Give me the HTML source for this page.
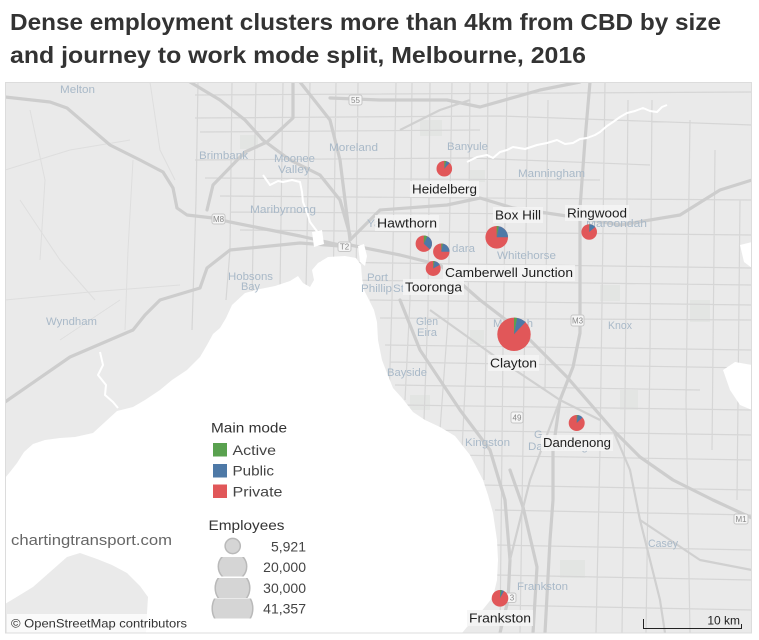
<!DOCTYPE html>
<html><head><meta charset="utf-8"><style>
html,body{margin:0;padding:0;background:#fff;}
svg{display:block;}
</style></head><body>
<svg width="759" height="640" viewBox="0 0 759 640" xmlns="http://www.w3.org/2000/svg" font-family="'Liberation Sans', sans-serif">
<rect width="759" height="640" fill="#fff"/>
<text x="10" y="30" font-size="23" font-weight="bold" fill="#333" textLength="711" lengthAdjust="spacingAndGlyphs">Dense employment clusters more than 4km from CBD by size</text>
<text x="10" y="63" font-size="23" font-weight="bold" fill="#333" textLength="576" lengthAdjust="spacingAndGlyphs">and journey to work mode split, Melbourne, 2016</text>
<defs>
<clipPath id="m"><rect x="5" y="82" width="747" height="551"/></clipPath>
<clipPath id="c2"><rect x="200" y="557" width="70" height="19.5"/></clipPath>
<clipPath id="c3"><rect x="200" y="578" width="70" height="20"/></clipPath>
<clipPath id="c4"><rect x="200" y="598.5" width="70" height="20"/></clipPath>
</defs>
<g clip-path="url(#m)">
<rect x="5" y="82" width="747" height="551" fill="#eaeaea"/>
<g fill="#e3e5e3">
<rect x="240" y="135" width="18" height="14"/><rect x="420" y="120" width="22" height="16"/><rect x="470" y="170" width="15" height="12"/>
<rect x="600" y="285" width="20" height="16"/><rect x="620" y="390" width="18" height="20"/><rect x="560" y="560" width="25" height="18"/>
<rect x="470" y="330" width="14" height="14"/><rect x="690" y="300" width="20" height="22"/><rect x="410" y="395" width="20" height="15"/>
</g>
<path d="M133,160 L128,250 L125,330 M20,200 L60,260 L95,300 M150,82 L160,150 L175,180 M5,300 L90,292 L180,285 M60,340 L120,300 M30,110 L45,180 L40,260 M5,170 L70,150 L130,140" stroke="#dedede" stroke-width="1" fill="none"/>
<path d="M198,82 L196,200 L192,330 M232,82 L230,250 L226,300 M256,82 L252,300 M283,82 L280,290 M310,82 L306,290 M336,82 L333,300 M358,82 L356,290 M396,82 L392,300 L389,400 M412,82 L410,300 L405,400 M430,82 L428,310 L424,420 M452,82 L448,320 L440,430 M470,82 L468,330 L462,450 M488,82 L486,340 L484,480 M507,82 L503,350 L500,633 M528,82 L524,380 L520,633 M548,100 L545,390 M605,82 L600,450 L596,633 M628,100 L625,400 L622,633 M652,100 L650,350 L646,633 M690,120 L686,400 L690,633 M715,150 L712,450 M740,200 L737,500
M195,95 L752,92 M195,118 L500,116 L752,125 M200,132 L480,130 M195,160 L470,158 L650,165 M205,178 L600,180 M220,196 L752,200 M230,212 L560,214 M240,230 L752,235 M320,262 L752,268 M340,280 L752,285 M370,300 L752,305 M380,318 L752,320 M385,345 L752,350 M390,362 L752,368 M395,385 L700,390 M400,405 L752,410 M420,430 L752,435 M450,455 L752,460 M480,485 L752,490 M495,510 L752,515 M495,545 L752,550 M495,575 L752,580 M495,605 L752,610" stroke="#d6d6d6" stroke-width="1.2" fill="none"/>
<g stroke="#cdcdcd" stroke-width="3.2" fill="none" stroke-linejoin="round" stroke-linecap="round">
<path d="M5,97 L50,102 L67,108 L110,145 L140,160 L163,172 L173,188 L177,208 L187,215 L213,218 L230,222 L260,228 L300,236 L340,245"/>
<path d="M5,402 L70,357 L133,330 L145,315 L160,300 L200,288 L207,268 L230,250 L300,243 L340,246"/>
<path d="M293,82 L293,118 L267,142 L245,152 L213,185 L207,210"/>
<path d="M190,82 L220,100 L245,120 L263,140 L290,160 L320,175 L340,200 L350,235"/>
<path d="M330,98 L380,100 L447,100 L480,107 L540,90 L580,82"/>
<path d="M300,82 L330,120 L340,160 L345,200 L350,240"/>
<path d="M350,240 L380,210 L447,205 L480,198 L513,208 L560,215 L580,218 L620,225 L680,215 L720,190 L752,180"/>
<path d="M350,245 L400,255 L440,265 L480,300 L523,333 L567,377 L613,430 L640,457 L673,480 L713,500 L752,518"/>
<path d="M590,82 L585,140 L580,208 L580,333 L573,367 L560,400 L553,450 L553,500 L550,540 L545,633"/>
<path d="M510,470 L523,507 L537,567 L533,633"/>
<path d="M400,300 L420,350 L460,410 L490,450 L505,500 L510,560 L508,600 L500,633"/>
</g>
<g stroke="#d0d0d0" stroke-width="2.2" fill="none" stroke-linejoin="round">
<path d="M430,310 L500,360 L560,400 L600,420"/>
<path d="M613,430 L630,470 L640,520 L650,560 L660,600 L665,633"/>
<path d="M560,400 L530,480 L510,560"/>
<path d="M640,520 L700,560 L752,570"/>
<path d="M400,130 L440,110 L470,100"/>
</g>
<path d="M232,305 L245,293 L260,289 L275,286 L290,281 L298,276 L303,283 L310,287 L314,280 L312,270 L318,263 L328,257 L345,256 L356,258 L361,265 L362,278 L364,290 L368,298 L374,310 L377,322 L378,340 L382,360 L387,373 L393,388 L402,398 L413,412 L425,420 L440,427 L455,436 L470,455 L483,480 L488,495 L493,513 L497,540 L498,560 L497,580 L493,597 L480,613 L467,627 L462,633 L146,633 L147,613 L148,597 L140,586 L127,573 L112,565 L97,559 L80,553 L67,557 L50,572 L33,587 L15,598 L5,604 L5,478 L10,472 L17,463 L24,452 L33,444 L45,440 L60,438 L75,437 L93,433 L105,422 L117,411 L133,407 L145,400 L160,390 L172,380 L187,370 L200,357 L207,345 L213,334 L220,328 L226,318 Z" fill="#fff"/>
<g stroke="#fff" stroke-width="2" fill="none" stroke-linejoin="round">
<path d="M467,162 L477,157 L487,155 L493,158 L500,152 L507,150 L513,147 L525,149 L537,145 L547,143 L557,140 L565,144 L573,143 L580,139 L587,138 L595,135 L600,132 L607,126 L613,122 L620,117 L627,113 L635,111 L643,108 L650,111 L657,112 L662,107 L667,105"/>
<path d="M263,175 L270,185 L278,181 L283,182 L292,180 L300,182 L302,192 L303,202 L307,212 L310,222 L316,230 L320,235"/>
<path d="M100,352 L103,365 L98,375 L106,385 L105,395 L113,402 L118,408"/>
</g>
<path d="M312,232 L322,230 L324,244 L314,247 Z M358,246 L364,244 L367,256 L365,266 L360,262 Z" fill="#fff"/>
<path d="M740,245 L752,242 L752,268 L744,262 Z M723,370 L735,362 L752,365 L752,410 L740,405 L730,390 Z" fill="#fff"/>
<g font-size="11" fill="#a9b9c8">
<text x="60" y="93" textLength="35" lengthAdjust="spacingAndGlyphs">Melton</text>
<text x="199" y="159" textLength="49" lengthAdjust="spacingAndGlyphs">Brimbank</text>
<text x="274" y="162" textLength="41" lengthAdjust="spacingAndGlyphs">Moonee</text>
<text x="278" y="173" textLength="32" lengthAdjust="spacingAndGlyphs">Valley</text>
<text x="329" y="151" textLength="49" lengthAdjust="spacingAndGlyphs">Moreland</text>
<text x="250" y="213" textLength="66" lengthAdjust="spacingAndGlyphs">Maribyrnong</text>
<text x="228" y="280" textLength="45" lengthAdjust="spacingAndGlyphs">Hobsons</text>
<text x="241" y="290" textLength="19" lengthAdjust="spacingAndGlyphs">Bay</text>
<text x="46" y="325" textLength="51" lengthAdjust="spacingAndGlyphs">Wyndham</text>
<text x="447" y="150" textLength="41" lengthAdjust="spacingAndGlyphs">Banyule</text>
<text x="518" y="177" textLength="67" lengthAdjust="spacingAndGlyphs">Manningham</text>
<text x="497" y="259" textLength="59" lengthAdjust="spacingAndGlyphs">Whitehorse</text>
<text x="586" y="227" textLength="61" lengthAdjust="spacingAndGlyphs">Maroondah</text>
<text x="452" y="252" textLength="23" lengthAdjust="spacingAndGlyphs">dara</text>
<text x="367" y="227" textLength="28" lengthAdjust="spacingAndGlyphs">Yarra</text>
<text x="367" y="281" textLength="21" lengthAdjust="spacingAndGlyphs">Port</text>
<text x="361" y="292" textLength="31" lengthAdjust="spacingAndGlyphs">Phillip</text>
<text x="393" y="292" textLength="11" lengthAdjust="spacingAndGlyphs">St</text>
<text x="416" y="325" textLength="22" lengthAdjust="spacingAndGlyphs">Glen</text>
<text x="417" y="336" textLength="20" lengthAdjust="spacingAndGlyphs">Eira</text>
<text x="493" y="327" textLength="40" lengthAdjust="spacingAndGlyphs">Monash</text>
<text x="608" y="329" textLength="24" lengthAdjust="spacingAndGlyphs">Knox</text>
<text x="387" y="376" textLength="40" lengthAdjust="spacingAndGlyphs">Bayside</text>
<text x="465" y="446" textLength="45" lengthAdjust="spacingAndGlyphs">Kingston</text>
<text x="534" y="438">G</text>
<text x="528" y="450" textLength="60" lengthAdjust="spacingAndGlyphs">Dandenong</text>
<text x="648" y="547" textLength="30" lengthAdjust="spacingAndGlyphs">Casey</text>
<text x="517" y="590" textLength="51" lengthAdjust="spacingAndGlyphs">Frankston</text>
</g>
<g fill="#f5f5f5" stroke="#c6c6c6" stroke-width="1">
<rect x="349" y="95" width="13" height="10" rx="2"/>
<rect x="212" y="214" width="13" height="10" rx="2"/>
<rect x="338" y="242" width="13" height="9.5" rx="2"/>
<rect x="571" y="315" width="13" height="11" rx="2"/>
<rect x="511" y="412" width="12" height="11" rx="2"/>
<rect x="734" y="514" width="14" height="10" rx="2"/>
<rect x="505" y="593" width="11" height="9.5" rx="2"/>
</g>
<g font-size="8" fill="#888" text-anchor="middle">
<text x="355.5" y="103">55</text>
<text x="218.5" y="222">M8</text>
<text x="344.5" y="249.5">T2</text>
<text x="577.5" y="323.5">M3</text>
<text x="517" y="420.5">49</text>
<text x="741" y="522">M1</text>
<text x="512" y="600.5">3</text>
</g>
<g fill="#f4f4f4" fill-opacity="0.85">
<rect x="410" y="181" width="69" height="16"/>
<rect x="493" y="207" width="50" height="16"/>
<rect x="565" y="205" width="64" height="16"/>
<rect x="375" y="215" width="64" height="16"/>
<rect x="443" y="265" width="132" height="16"/>
<rect x="403" y="279" width="61" height="16"/>
<rect x="488" y="355" width="51" height="16"/>
<rect x="541" y="435" width="72" height="16"/>
<rect x="467" y="610" width="66" height="16"/>
</g>
<g stroke="none">
<circle cx="444.3" cy="168.7" r="7.8" fill="#e15759"/>
<path d="M444.3,168.7 L444.3,160.9 A7.8,7.8 0 0 1 446.24,161.15 Z" fill="#59a14f"/>
<path d="M444.3,168.7 L446.24,161.15 A7.8,7.8 0 0 1 449.64,163.01 Z" fill="#4e79a7"/>
<circle cx="496.7" cy="237.3" r="11.3" fill="#e15759"/>
<path d="M496.7,237.3 L496.7,226 A11.3,11.3 0 0 1 498.82,226.2 Z" fill="#59a14f"/>
<path d="M496.7,237.3 L498.82,226.2 A11.3,11.3 0 0 1 508,237.3 Z" fill="#4e79a7"/>
<circle cx="589.2" cy="232" r="7.8" fill="#e15759"/>
<path d="M589.2,232 L589.2,224.2 A7.8,7.8 0 0 1 589.69,224.22 Z" fill="#59a14f"/>
<path d="M589.2,232 L589.69,224.22 A7.8,7.8 0 0 1 595.21,227.03 Z" fill="#4e79a7"/>
<circle cx="423.8" cy="243.7" r="8.2" fill="#e15759"/>
<path d="M423.8,243.7 L423.8,235.5 A8.2,8.2 0 0 1 427.29,236.28 Z" fill="#59a14f"/>
<path d="M423.8,243.7 L427.29,236.28 A8.2,8.2 0 0 1 429.78,249.31 Z" fill="#4e79a7"/>
<circle cx="441.3" cy="251.7" r="8.2" fill="#e15759"/>
<path d="M441.3,251.7 L441.3,243.5 A8.2,8.2 0 0 1 442.84,243.65 Z" fill="#59a14f"/>
<path d="M441.3,251.7 L442.84,243.65 A8.2,8.2 0 0 1 449.5,251.7 Z" fill="#4e79a7"/>
<circle cx="433.2" cy="268.5" r="7.5" fill="#e15759"/>
<path d="M433.2,268.5 L433.2,261 A7.5,7.5 0 0 1 434.61,261.13 Z" fill="#59a14f"/>
<path d="M433.2,268.5 L434.61,261.13 A7.5,7.5 0 0 1 439.77,264.89 Z" fill="#4e79a7"/>
<circle cx="514" cy="334.3" r="16.7" fill="#e15759"/>
<path d="M514,334.3 L514,317.6 A16.7,16.7 0 0 1 517.13,317.9 Z" fill="#59a14f"/>
<path d="M514,334.3 L517.13,317.9 A16.7,16.7 0 0 1 525.43,322.13 Z" fill="#4e79a7"/>
<circle cx="576.7" cy="423" r="8" fill="#e15759"/>
<path d="M576.7,423 L576.7,415 A8,8 0 0 1 577.7,415.06 Z" fill="#59a14f"/>
<path d="M576.7,423 L577.7,415.06 A8,8 0 0 1 582.53,417.52 Z" fill="#4e79a7"/>
<circle cx="500" cy="598.3" r="8.3" fill="#e15759"/>
<path d="M500,598.3 L500,590 A8.3,8.3 0 0 1 501.56,590.15 Z" fill="#59a14f"/>
<path d="M500,598.3 L501.56,590.15 A8.3,8.3 0 0 1 504,591.03 Z" fill="#4e79a7"/>
</g>
<g font-size="13" fill="#1e1e1e">
<text x="412" y="193.5" textLength="65" lengthAdjust="spacingAndGlyphs">Heidelberg</text>
<text x="495" y="219.5" textLength="46" lengthAdjust="spacingAndGlyphs">Box Hill</text>
<text x="567" y="217.5" textLength="60" lengthAdjust="spacingAndGlyphs">Ringwood</text>
<text x="377" y="227.5" textLength="60" lengthAdjust="spacingAndGlyphs">Hawthorn</text>
<text x="445" y="277" textLength="128" lengthAdjust="spacingAndGlyphs">Camberwell Junction</text>
<text x="405" y="291.5" textLength="57" lengthAdjust="spacingAndGlyphs">Tooronga</text>
<text x="490" y="367.5" textLength="47" lengthAdjust="spacingAndGlyphs">Clayton</text>
<text x="543" y="447" textLength="68" lengthAdjust="spacingAndGlyphs">Dandenong</text>
<text x="469" y="622.5" textLength="62" lengthAdjust="spacingAndGlyphs">Frankston</text>
</g>
<rect x="7" y="614" width="183" height="19" fill="#fff" fill-opacity="0.75"/>
<text x="11" y="627.5" font-size="12" fill="#333" textLength="176" lengthAdjust="spacingAndGlyphs">© OpenStreetMap contributors</text>
</g>
<text x="11" y="545" font-size="15" fill="#666" textLength="161" lengthAdjust="spacingAndGlyphs">chartingtransport.com</text>
<text x="211" y="432.5" font-size="14" fill="#333" textLength="76" lengthAdjust="spacingAndGlyphs">Main mode</text>
<rect x="213" y="443" width="14" height="13.5" fill="#59a14f"/>
<rect x="213" y="464" width="14" height="13.5" fill="#4e79a7"/>
<rect x="213" y="484.5" width="14" height="13.5" fill="#e15759"/>
<g font-size="14" fill="#444">
<text x="232.5" y="455" textLength="43.5" lengthAdjust="spacingAndGlyphs">Active</text>
<text x="232.5" y="475.5" textLength="41.5" lengthAdjust="spacingAndGlyphs">Public</text>
<text x="232.5" y="496.5" textLength="50" lengthAdjust="spacingAndGlyphs">Private</text>
</g>
<text x="208.5" y="530" font-size="14" fill="#333" textLength="76" lengthAdjust="spacingAndGlyphs">Employees</text>
<g fill="#d5d5d5" stroke="#b9b9b9" stroke-width="1.5">
<circle cx="232.7" cy="546" r="7.6"/>
<circle cx="232.5" cy="566.5" r="14.2" clip-path="url(#c2)"/>
<circle cx="232.5" cy="588" r="17.3" clip-path="url(#c3)"/>
<circle cx="232.5" cy="608.5" r="20.3" clip-path="url(#c4)"/>
</g>
<g font-size="14" fill="#444" text-anchor="end">
<text x="306" y="551.5">5,921</text>
<text x="306" y="572">20,000</text>
<text x="306" y="593">30,000</text>
<text x="306" y="613.5">41,357</text>
</g>
<path d="M643.5,619 L643.5,628.5 L741.5,628.5 L741.5,624" stroke="#222" stroke-width="1" fill="none"/>
<text x="740" y="624.5" font-size="12" fill="#222" text-anchor="end">10 km</text>
<rect x="5.5" y="82.5" width="746" height="550.5" fill="none" stroke="#dcdcdc" stroke-width="1"/>
</svg>
</body></html>
